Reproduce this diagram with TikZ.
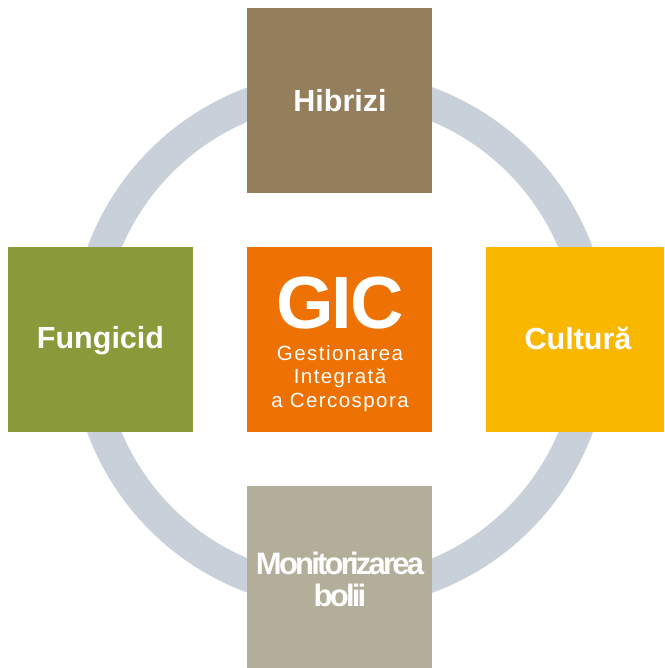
\documentclass[tikz,border=0pt]{standalone}
\usepackage{fontspec}
\setmainfont{Liberation Sans}
\newfontfamily\boldf[LetterSpace=0]{Liberation Sans Bold}
\newfontfamily\monif[LetterSpace=-9]{Liberation Sans Bold}
\newfontfamily\gicf[LetterSpace=-3]{Liberation Sans Bold}
\newfontfamily\subf[LetterSpace=7]{Liberation Sans}
\definecolor{ringc}{HTML}{C8D1D9}
\definecolor{topc}{HTML}{947F5D}
\definecolor{leftc}{HTML}{8A9A3B}
\definecolor{midc}{HTML}{EE7203}
\definecolor{rightc}{HTML}{F9B700}
\definecolor{botc}{HTML}{B3AE9A}
\tikzset{
  sq/.style={rectangle, minimum width=185pt, minimum height=185pt, inner sep=0pt, draw=none},
  lbl/.style={text=white, font=\boldf\fontsize{30.5}{30.5}\selectfont, inner sep=0pt},
  sub/.style={text=white, font=\subf\fontsize{20.5}{20.5}\selectfont, inner sep=0pt, anchor=base},
}
\begin{document}
\begin{tikzpicture}[x=1pt,y=-1pt]
\useasboundingbox (0,0) rectangle (664,668);
\begin{scope}
\clip (0,0) rectangle (664,668);
\node[circle, draw=ringc, line width=32pt, minimum size=506pt, inner sep=0pt] (ring) at (340,340) {};
\node[sq, fill=topc] (top) at (339.5,100.5) {};
\node[sq, fill=leftc] (left) at (100.5,339.5) {};
\node[sq, fill=midc] (mid) at (339.5,339.5) {};
\node[sq, fill=rightc] (right) at (578.5,339.5) {};
\node[sq, fill=botc] (bot) at (339.5,578.5) {};
\end{scope}
\node[lbl, anchor=base] (t1) at (340,111.5) {Hibrizi};
\node[lbl, anchor=base] (t2) at (100.5,348) {Fungicid};
\node[lbl, anchor=base] (t3) at (578,349) {Cultură};
\node[lbl, font=\monif\fontsize{31}{31}\selectfont, anchor=base] (t4) at (340,574) {Monitorizarea};
\node[lbl, font=\monif\fontsize{31}{31}\selectfont, anchor=base] (t5) at (340,606) {bolii};
\node[text=white, font=\gicf\fontsize{74}{74}\selectfont, inner sep=0pt, anchor=base] (gic) at (340,328) {GIC};
\node[sub] (s1) at (340,360) {Gestionarea};
\node[sub] (s2) at (340,383) {Integrată};
\node[sub] (s3) at (340,407) {a Cercospora};
\end{tikzpicture}
\end{document}
